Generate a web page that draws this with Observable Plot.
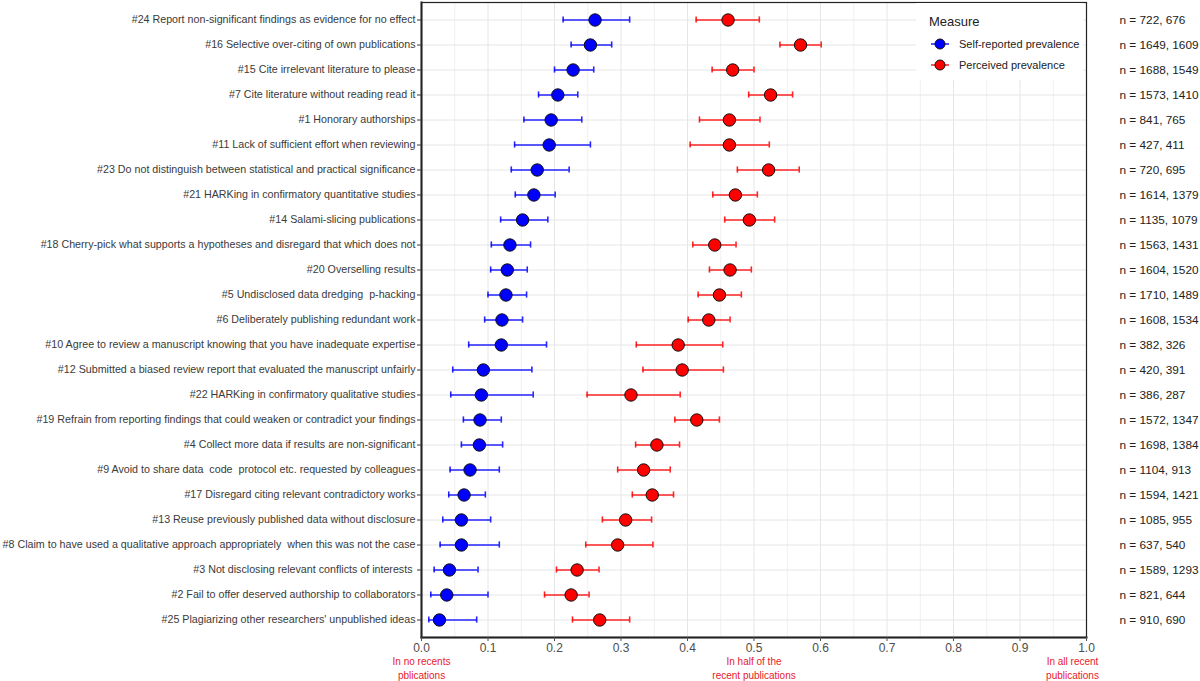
<!DOCTYPE html>
<html><head><meta charset="utf-8">
<script src="https://cdn.jsdelivr.net/npm/d3@7"></script>
<script src="https://cdn.jsdelivr.net/npm/@observablehq/plot@0.6"></script>
<style>
body{margin:0;background:#fff;font-family:"Liberation Sans",Arial,sans-serif;}
#wrap{position:relative;width:1200px;height:681px;overflow:hidden;}
svg text{white-space:pre;}
#legend{position:absolute;left:916px;top:3px;width:167px;height:77px;background:#fff;}
#legend .title{position:absolute;left:13px;top:11px;font-size:13px;color:#222;}
#legend .item{position:absolute;left:14px;height:16px;display:flex;align-items:center;font-size:11px;color:#222;}
#legend .item svg{margin-right:9px;}
</style></head><body><div id="wrap"></div><script>
const labels = [
"#24 Report non-significant findings as evidence for no effect",
"#16 Selective over-citing of own publications",
"#15 Cite irrelevant literature to please",
"#7 Cite literature without reading read it",
"#1 Honorary authorships",
"#11 Lack of sufficient effort when reviewing",
"#23 Do not distinguish between statistical and practical significance",
"#21 HARKing in confirmatory quantitative studies",
"#14 Salami-slicing publications",
"#18 Cherry-pick what supports a hypotheses and disregard that which does not",
"#20 Overselling results",
"#5 Undisclosed data dredging  p-hacking",
"#6 Deliberately publishing redundant work",
"#10 Agree to review a manuscript knowing that you have inadequate expertise",
"#12 Submitted a biased review report that evaluated the manuscript unfairly",
"#22 HARKing in confirmatory qualitative studies",
"#19 Refrain from reporting findings that could weaken or contradict your findings",
"#4 Collect more data if results are non-significant",
"#9 Avoid to share data  code  protocol etc. requested by colleagues",
"#17 Disregard citing relevant contradictory works",
"#13 Reuse previously published data without disclosure",
"#8 Claim to have used a qualitative approach appropriately  when this was not the case",
"#3 Not disclosing relevant conflicts of interests ",
"#2 Fail to offer deserved authorship to collaborators",
"#25 Plagiarizing other researchers' unpublished ideas"
];
const selfMid = [0.261,0.254,0.228,0.205,0.195,0.192,0.174,0.169,0.152,0.133,0.129,0.127,0.121,0.120,0.093,0.090,0.088,0.087,0.073,0.064,0.060,0.060,0.042,0.038,0.027];
const selfLo  = [0.213,0.225,0.200,0.176,0.154,0.140,0.135,0.141,0.119,0.105,0.104,0.100,0.095,0.071,0.047,0.044,0.063,0.060,0.043,0.041,0.032,0.028,0.019,0.014,0.011];
const selfHi  = [0.313,0.286,0.259,0.235,0.241,0.254,0.222,0.201,0.190,0.164,0.159,0.158,0.152,0.188,0.166,0.168,0.120,0.122,0.117,0.096,0.104,0.117,0.085,0.100,0.083];
const percMid = [0.461,0.570,0.468,0.525,0.463,0.463,0.522,0.472,0.493,0.441,0.464,0.448,0.432,0.386,0.392,0.315,0.414,0.354,0.334,0.347,0.307,0.295,0.234,0.225,0.268];
const percLo  = [0.413,0.539,0.437,0.492,0.418,0.404,0.475,0.438,0.456,0.408,0.433,0.416,0.401,0.323,0.333,0.249,0.381,0.322,0.295,0.317,0.272,0.247,0.203,0.185,0.227];
const percHi  = [0.508,0.601,0.500,0.558,0.509,0.523,0.568,0.505,0.531,0.473,0.496,0.481,0.464,0.453,0.454,0.389,0.448,0.388,0.374,0.379,0.346,0.348,0.267,0.252,0.313];
const nSelf = [722,1649,1688,1573,841,427,720,1614,1135,1563,1604,1710,1608,382,420,386,1572,1698,1104,1594,1085,637,1589,821,910];
const nPerc = [676,1609,1549,1410,765,411,695,1379,1079,1431,1520,1489,1534,326,391,287,1347,1384,913,1421,955,540,1293,644,690];
const xTicks = [0,0.1,0.2,0.3,0.4,0.5,0.6,0.7,0.8,0.9,1.0];
const xMinor = [0.05,0.15,0.25,0.35,0.45,0.55,0.65,0.75,0.85,0.95];
const annoX = [0, 0.5];
const annoText = ["In no recents\npblications", "In half of the\nrecent publications"];
const annoEndX = [1];
const annoEndText = ["In all recent\npublications"];
const measures = ["Self-reported prevalence", "Perceived prevalence"];
const colors = ["#0000ff", "#ff0000"];

const rows = labels.map((label, i) => ({label, sm: selfMid[i], sl: selfLo[i], sh: selfHi[i], pm: percMid[i], pl: percLo[i], ph: percHi[i], n: `n = ${nSelf[i]}, ${nPerc[i]}`}));
const anno = annoX.map((x, i) => ({x, text: annoText[i]}));
const annoEnd = annoEndX.map((x, i) => ({x, text: annoEndText[i]}));

const capInset = 9.4;
const annoStyle = {frameAnchor: "bottom", dy: 30, fontSize: 10, lineHeight: 1.4, fill: "#e8202a", lineAnchor: "middle"};
const chart = Plot.plot({
  width: 1200, height: 681,
  marginLeft: 421, marginRight: 114, marginTop: 2, marginBottom: 44,
  style: {fontFamily: '"Liberation Sans", Arial, sans-serif', background: "#fff"},
  x: {domain: [0, 1]},
  y: {type: "band", domain: labels, paddingInner: 0, paddingOuter: 0.1},
  marks: [
    Plot.gridX(xMinor, {stroke: "#ececec", strokeOpacity: 1, strokeWidth: 0.8}),
    Plot.gridX(xTicks, {stroke: "#e6e6e6", strokeOpacity: 1, strokeWidth: 1}),
    Plot.gridY(labels, {stroke: "#e6e6e6", strokeOpacity: 1, strokeWidth: 1}),
    Plot.frame({stroke: "#222", strokeWidth: 1.2}),
    Plot.frame({anchor: "left", stroke: "#222", strokeWidth: 2}),
    Plot.frame({anchor: "bottom", stroke: "#222", strokeWidth: 2}),
    Plot.axisY({tickSize: 4, tickPadding: 2, fontSize: 10.7, color: "#3a3a3a", label: null}),
    Plot.axisX(xTicks, {tickSize: 4, tickPadding: 2, fontSize: 12, color: "#4d4d4d", tickFormat: d3.format(".1f"), label: null}),
    Plot.ruleY(rows, {y: "label", x1: "sl", x2: "sh", stroke: colors[0], strokeWidth: 1.6, strokeOpacity: 0.85}),
    Plot.tickX(rows, {x: "sl", y: "label", stroke: colors[0], strokeWidth: 1.6, strokeOpacity: 0.85, insetTop: capInset, insetBottom: capInset}),
    Plot.tickX(rows, {x: "sh", y: "label", stroke: colors[0], strokeWidth: 1.6, strokeOpacity: 0.85, insetTop: capInset, insetBottom: capInset}),
    Plot.ruleY(rows, {y: "label", x1: "pl", x2: "ph", stroke: colors[1], strokeWidth: 1.6, strokeOpacity: 0.85}),
    Plot.tickX(rows, {x: "pl", y: "label", stroke: colors[1], strokeWidth: 1.6, strokeOpacity: 0.85, insetTop: capInset, insetBottom: capInset}),
    Plot.tickX(rows, {x: "ph", y: "label", stroke: colors[1], strokeWidth: 1.6, strokeOpacity: 0.85, insetTop: capInset, insetBottom: capInset}),
    Plot.dot(rows, {x: "sm", y: "label", r: 6.2, fill: colors[0], stroke: "#111", strokeWidth: 1}),
    Plot.dot(rows, {x: "pm", y: "label", r: 6.2, fill: colors[1], stroke: "#111", strokeWidth: 1}),
    Plot.text(rows, {y: "label", text: "n", frameAnchor: "right", dx: 33, textAnchor: "start", fontSize: 11.8, fill: "#222"}),
    Plot.text(anno, {x: "x", text: "text", ...annoStyle}),
    Plot.text(annoEnd, {x: "x", text: "text", dx: -14, ...annoStyle})
  ]
});
document.getElementById("wrap").appendChild(chart);
const legend = document.createElement("div");
legend.id = "legend";
let html = `<div class="title">Measure</div>`;
measures.forEach((m, i) => {
  html += `<div class="item" style="top:${33 + i * 21}px"><svg width="20" height="14"><line x1="1" x2="19" y1="7" y2="7" stroke="${colors[i]}" stroke-width="1.6" stroke-opacity="0.85"/><circle cx="10" cy="7" r="5" fill="${colors[i]}" stroke="#111" stroke-width="1"/></svg>${m}</div>`;
});
legend.innerHTML = html;
document.getElementById("wrap").appendChild(legend);
</script></body></html>
